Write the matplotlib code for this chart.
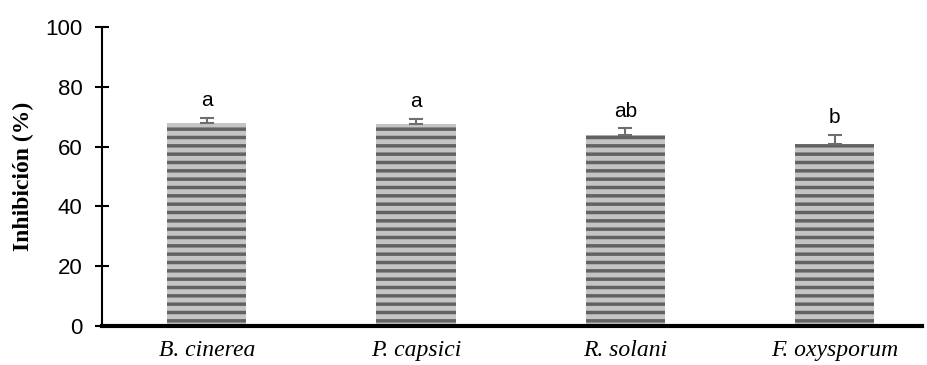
import numpy as np
import matplotlib.pyplot as plt

plt.rcParams['hatch.linewidth'] = 2.5

species = ['B. cinerea', 'P. capsici', 'R. solani', 'F. oxysporum']
inhibition = [67.8, 67.4, 63.9, 60.9]
error = [1.9, 1.9, 2.2, 3.0]
letters = ['a', 'a', 'ab', 'b']

fig = plt.figure(figsize=(9.28, 3.65), dpi=100)
ax = fig.add_axes([0.11, 0.107, 0.884, 0.819])

x = np.arange(len(species))
ax.bar(x, inhibition, width=0.38, color='#c4c4c4', edgecolor='#626262',
       linewidth=0, hatch='--', zorder=2)
ax.errorbar(x, inhibition, yerr=[np.zeros(len(error)), error], fmt='none',
            ecolor='#6e6e6e', elinewidth=1.5, capsize=5, capthick=1.5, zorder=3)

for xi, v, e, t in zip(x, inhibition, error, letters):
    ax.text(xi, v + e + 2.5, t, ha='center', va='bottom',
            fontsize=15, family='Liberation Sans')

ax.set_xlim(-0.5, 3.42)
ax.set_ylim(0, 100)
ax.set_yticks(range(0, 101, 20))
ax.set_xticks(x)
ax.set_xticklabels(species, fontsize=17, family='Liberation Serif', style='italic')
for lab in ax.get_yticklabels():
    lab.set_family('Liberation Sans')
    lab.set_fontsize(16)
ax.tick_params(axis='x', length=0, pad=10)
ax.tick_params(axis='y', direction='inout', length=10, width=1.5, pad=9)
ax.set_ylabel('Inhibición (%)', fontsize=17, family='Liberation Serif',
              fontweight='bold', labelpad=8)

ax.spines['top'].set_visible(False)
ax.spines['right'].set_visible(False)
ax.spines['left'].set_linewidth(1.5)
ax.spines['bottom'].set_linewidth(3)
ax.spines['bottom'].set_zorder(4)

plt.savefig('out.png', dpi=100)
